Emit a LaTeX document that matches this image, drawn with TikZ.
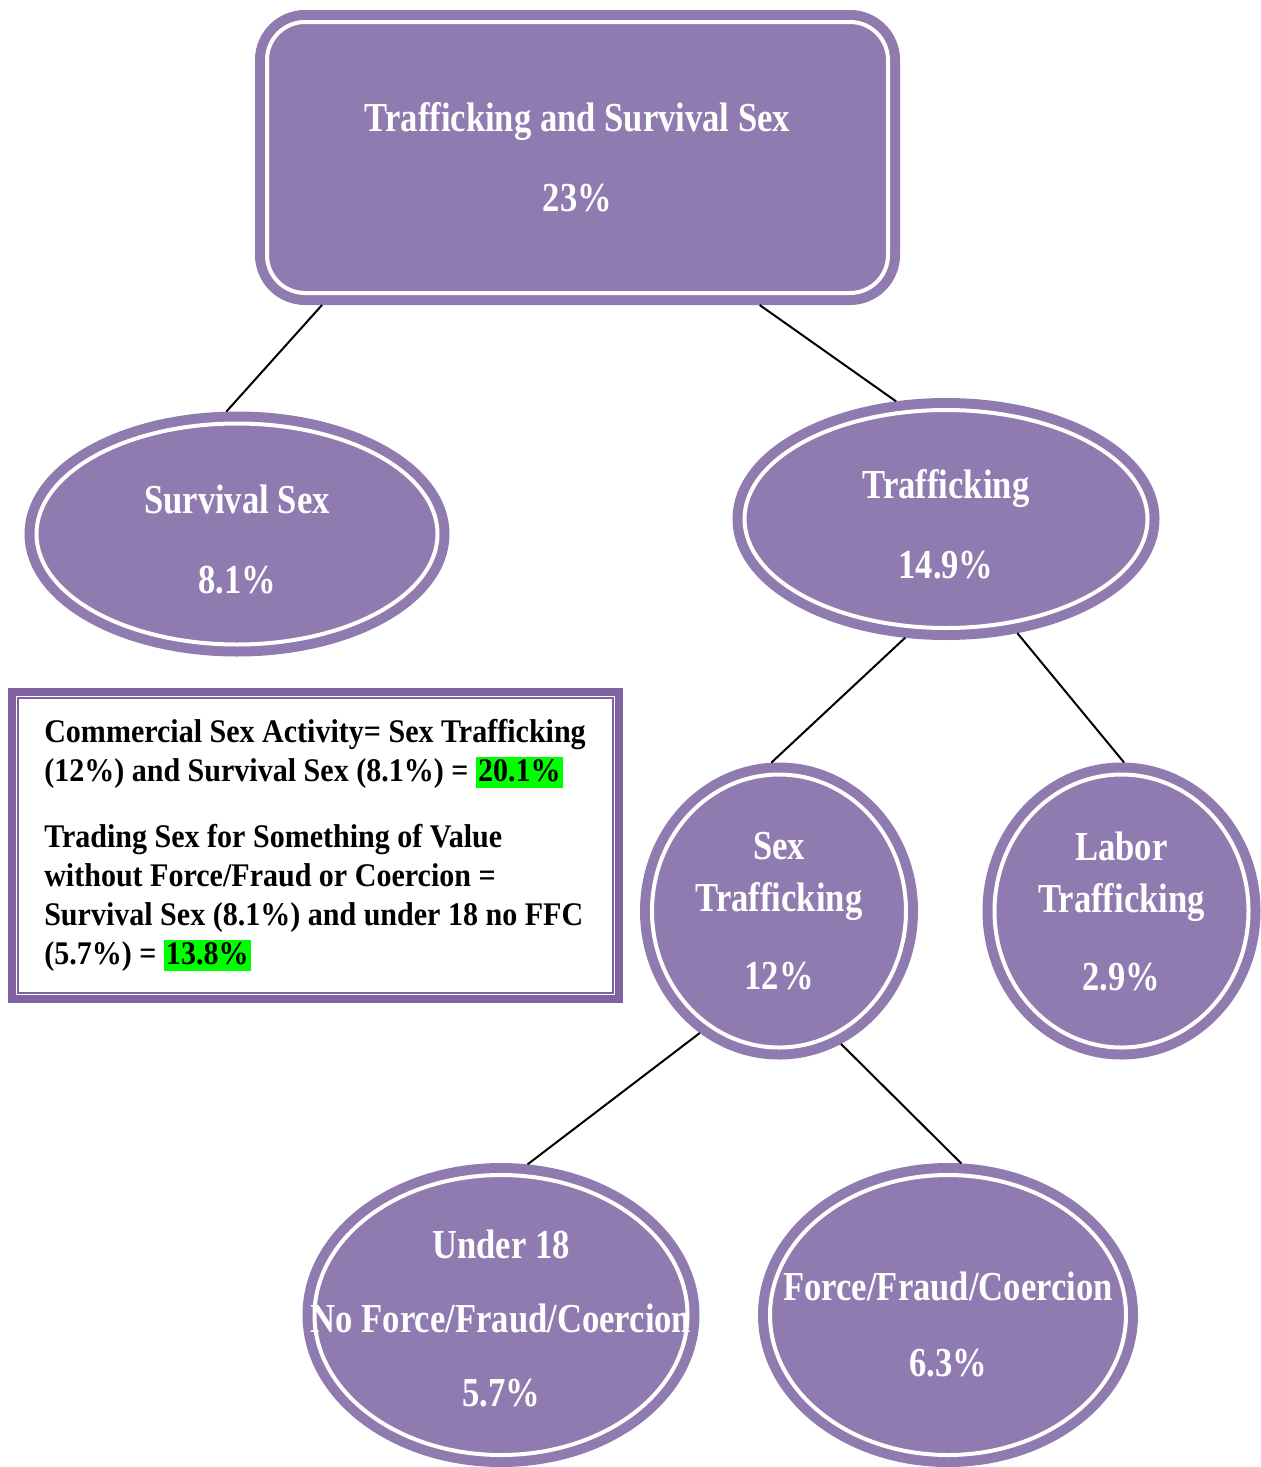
\documentclass[tikz,border=0pt]{standalone}
\usepackage{fontspec}
\setmainfont{Liberation Serif}
\newfontfamily\shapefont[FakeStretch=0.84]{Liberation Serif}
\newfontfamily\notefont[FakeStretch=0.91]{Liberation Serif}
\usepackage{tikz}
\usetikzlibrary{shapes.geometric}
\definecolor{lilac}{RGB}{143,123,176}
\definecolor{lilacdark}{RGB}{128,98,162}
\definecolor{hilite}{RGB}{0,255,0}
\newcommand{\greenmark}[1]{{\setlength{\fboxsep}{1pt}\colorbox{hilite}{\rule[-2.5pt]{0pt}{13.5pt}#1}}}
\tikzstyle{group} = [draw=lilac, fill=lilac, line width=5pt, double=white,
    double distance=2pt, outer sep=6pt, text=white, align=center,
    font=\shapefont\bfseries\fontsize{20.6}{26}\selectfont]
\tikzstyle{oval} = [group, ellipse, inner sep=-30pt]
\tikzstyle{note} = [rectangle, draw=lilacdark, line width=4pt, outer sep=0pt,
    minimum width=303.5pt, minimum height=153.5pt, align=left,
    font=\notefont\bfseries\fontsize{16.5}{19.5}\selectfont]
\tikzstyle{line} = [draw, line width=1pt]

\begin{document}
\begin{tikzpicture}[x=0.5pt, y=-0.5pt]
    \useasboundingbox (0,0) rectangle (1260,1467);
    % Place nodes
    \node [group, rectangle, rounded corners=19pt, minimum width=310.5pt,
        minimum height=135.5pt] (top) at (577.5,157.5)
        {Trafficking and Survival Sex\\[14pt] 23\%};
    \node [oval, minimum width=200.5pt, minimum height=110.5pt] (surv) at (237,534)
        {\rule{0pt}{20pt}Survival Sex\\[14pt] 8.1\%};
    \node [oval, minimum width=201.5pt, minimum height=109pt] (traf) at (946,519)
        {\rule{0pt}{20pt}Trafficking\\[14pt] 14.9\%};
    \node [oval, minimum width=127pt, minimum height=136.5pt] (sext) at (779,911)
        {Sex\\ Trafficking\\[13pt] 12\%};
    \node [oval, minimum width=127pt, minimum height=136.5pt] (labt) at (1121.5,911)
        {Labor\\ Trafficking\\[13pt] 2.9\%};
    \node [oval, minimum width=186.5pt, minimum height=140pt] (under) at (501,1315)
        {\rule{0pt}{18pt}Under 18\\[11pt] No Force/Fraud/Coercion\\[11pt] 5.7\%};
    \node [oval, minimum width=178pt, minimum height=140pt] (ffc) at (948,1315)
        {\rule{0pt}{24pt}Force/Fraud/Coercion\\[12pt] 6.3\%};

    % Note box
    \node [note] (sums) at (315,845)
        {Commercial Sex Activity= Sex Trafficking\\
         (12\%) and Survival Sex (8.1\%) = \greenmark{20.1\%}\\[13.5pt]
         Trading Sex for Something of Value\\
         without Force/Fraud or Coercion =\\
         Survival Sex (8.1\%) and under 18 no FFC\\
         (5.7\%) = \greenmark{13.8\%}};
    \draw [lilacdark, line width=1pt] ([shift={(3pt,-3pt)}]sums.north west)
        rectangle ([shift={(-3pt,3pt)}]sums.south east);

    % Draw edges
    \path [line] (top.210) -- (surv.95);
    \path [line] (top.-39) -- (traf.113);
    \path [line] (traf.-109) -- (sext.93);
    \path [line] (traf.-58) -- (labt.89);
    \path [line] (sext.-123) -- (under.80);
    \path [line] (sext.-65) -- (ffc.85);
\end{tikzpicture}
\end{document}
